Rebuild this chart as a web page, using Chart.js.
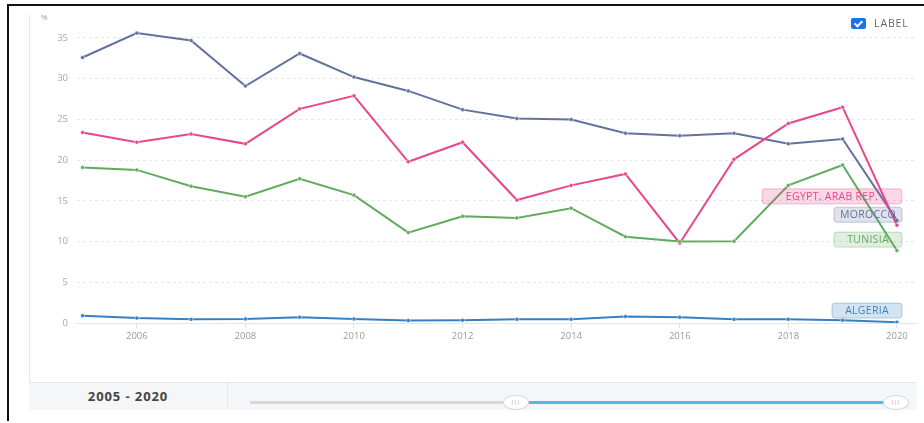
<!DOCTYPE html>
<html>
<head>
<meta charset="utf-8">
<script src="https://cdn.jsdelivr.net/npm/chart.js@4.4.1/dist/chart.umd.min.js"></script>
<style>
  body { margin: 0; width: 924px; height: 423px; background: #fff; font-family: "Open Sans", sans-serif; position: relative; overflow: hidden; }
  .frame-top { position: absolute; left: 7px; top: 4px; width: 917px; height: 2px; background: #111; }
  .frame-left { position: absolute; left: 7px; top: 4px; width: 2px; height: 417px; background: #111; }
  .panel-line { position: absolute; left: 29px; top: 15px; width: 1px; height: 395px; background: #e3e8ee; }
  #wrap { position: absolute; left: 29px; top: 8px; width: 888px; height: 374px; }
  .unit { position: absolute; left: 41px; top: 11px; font-size: 8px; color: #999; }
  .legend { position: absolute; left: 851px; top: 16px; display: flex; align-items: center; }
  .check { width: 15px; height: 11px; background: #1a73e8; border-radius: 2px; position: relative; }
  .check::after { content: ""; position: absolute; left: 5px; top: 1px; width: 3px; height: 6px; border: solid #fff; border-width: 0 2px 2px 0; transform: rotate(45deg); }
  .legend span { margin-left: 8px; font-size: 10.5px; color: #666; letter-spacing: 0.9px; }
  .bottom { position: absolute; left: 29px; top: 382px; width: 888px; height: 28px; background: #f5f6f8; border-top: 1px solid #e4e6ea; box-sizing: border-box; }
  .range { position: absolute; left: 0; width: 198px; top: 0; height: 27px; line-height: 27px; text-align: center; font-weight: bold; font-size: 13px; color: #444; letter-spacing: 0.9px; }
  .sep { position: absolute; left: 198px; top: 0; width: 1px; height: 27px; background: #e4e6ea; }
  .track { position: absolute; left: 221px; top: 18px; width: 262px; height: 3px; background: #d5d9de; }
  .track.on { left: 498px; width: 370px; background: #5ab4ec; }
  .handle { position: absolute; top: 12px; width: 26px; height: 15px; margin-left: -13px; background: #fff; border: 1px solid #d5d9df; border-radius: 50%; box-sizing: border-box; font-size: 7px; color: #bbb; text-align: center; line-height: 13px; letter-spacing: 1px; }
</style>
</head>
<body>
<div class="frame-top"></div>
<div class="frame-left"></div>
<div class="panel-line"></div>
<div id="wrap"><canvas id="chart"></canvas></div>
<div class="unit">%</div>
<div class="legend"><div class="check"></div><span>LABEL</span></div>
<div class="bottom">
  <div class="range">2005 - 2020</div>
  <div class="sep"></div>
  <div class="track"></div>
  <div class="track on"></div>
  <div class="handle" style="left:487px">III</div>
  <div class="handle" style="left:867px">III</div>
</div>
<script>
// Data
const years = [2005, 2006, 2007, 2008, 2009, 2010, 2011, 2012, 2013, 2014, 2015, 2016, 2017, 2018, 2019, 2020];
const morocco = [32.6, 35.6, 34.7, 29.1, 33.1, 30.2, 28.5, 26.2, 25.1, 25.0, 23.3, 23.0, 23.3, 22.0, 22.6, 12.6];
const egypt = [23.4, 22.2, 23.2, 22.0, 26.3, 27.9, 19.8, 22.2, 15.1, 16.9, 18.3, 9.8, 20.1, 24.5, 26.5, 12.0];
const tunisia = [19.1, 18.8, 16.8, 15.5, 17.7, 15.7, 11.1, 13.1, 12.9, 14.1, 10.6, 10.0, 10.05, 16.9, 19.4, 8.9];
const algeria = [0.9, 0.6, 0.45, 0.5, 0.7, 0.5, 0.3, 0.33, 0.45, 0.45, 0.8, 0.7, 0.45, 0.45, 0.33, 0.1];
const yTicks = [0, 5, 10, 15, 20, 25, 30, 35];
const xTicks = [2006, 2008, 2010, 2012, 2014, 2016, 2018, 2020];

function series(label, values, color, endLabel) {
  return {
    label: label,
    data: years.map((y, i) => ({ x: y, y: values[i] })),
    borderColor: color,
    backgroundColor: color,
    pointBackgroundColor: color,
    pointBorderColor: "#fff",
    pointBorderWidth: 0.5,
    borderWidth: 2,
    pointRadius: 2,
    tension: 0,
    endLabel: endLabel,
  };
}

// Boxed country names at the right end of the lines
const endLabels = {
  id: "endLabels",
  afterDatasetsDraw(chart) {
    const ctx = chart.ctx;
    const y = chart.scales.y;
    ctx.save();
    ctx.font = "10.5px 'Open Sans', sans-serif";
    ctx.letterSpacing = "0.3px";
    ctx.textAlign = "center";
    ctx.textBaseline = "middle";
    chart.data.datasets.forEach((ds) => {
      const l = ds.endLabel;
      const right = chart.chartArea.right - 15;
      const cy = y.getPixelForValue(l.at);
      const left = right - l.width;
      ctx.beginPath();
      ctx.roundRect(left, cy - 7.5, l.width, 15, 3);
      ctx.fillStyle = l.fill;
      ctx.fill();
      ctx.strokeStyle = l.stroke;
      ctx.lineWidth = 1;
      ctx.stroke();
      ctx.fillStyle = l.text;
      ctx.fillText(ds.label, left + l.width / 2, cy + 0.5);
    });
    ctx.restore();
  },
};

new Chart(document.getElementById("chart"), {
  type: "line",
  data: {
    datasets: [
      series("ALGERIA", algeria, "#3680c2", { at: 1.52, width: 70, fill: "rgba(54,128,194,0.22)", stroke: "rgba(54,128,194,0.35)", text: "#3a86c8" }),
      series("TUNISIA", tunisia, "#62aa5e", { at: 10.24, width: 68, fill: "rgba(98,170,94,0.2)", stroke: "rgba(98,170,94,0.35)", text: "#62aa5e" }),
      series("EGYPT, ARAB REP.", egypt, "#e8478b", { at: 15.55, width: 140, fill: "rgba(232,71,139,0.22)", stroke: "rgba(232,71,139,0.35)", text: "#e8478b" }),
      series("MOROCCO", morocco, "#63719f", { at: 13.3, width: 68, fill: "rgba(99,113,159,0.2)", stroke: "rgba(99,113,159,0.35)", text: "#63719f" }),
    ],
  },
  options: {
    responsive: true,
    maintainAspectRatio: false,
    animation: false,
    devicePixelRatio: 1,
    layout: { autoPadding: false, padding: { top: 12, right: 0, bottom: 0, left: 0 } },
    plugins: { legend: { display: false }, tooltip: { enabled: false } },
    scales: {
      x: {
        type: "linear",
        min: 2004.88,
        max: 2020.37,
        afterBuildTicks: (s) => { s.ticks = xTicks.map((v) => ({ value: v })); },
        afterFit: (s) => { s.height = 59; },
        grid: { drawOnChartArea: false, drawTicks: true, tickLength: 5, color: "#dfe3e8" },
        border: { display: true, color: "#e3e6ea" },
        ticks: { color: "#9a9a9a", padding: 3, font: { size: 9.5, family: "'Open Sans', sans-serif" }, callback: (v) => String(v) },
      },
      y: {
        min: 0,
        max: 37,
        afterBuildTicks: (s) => { s.ticks = yTicks.map((v) => ({ value: v })); },
        afterFit: (s) => { s.width = 47; },
        grid: { drawTicks: false, color: "#e6e6e6" },
        border: { display: true, color: "rgba(0,0,0,0)", dash: [3, 3] },
        ticks: { color: "#a8a8a8", padding: 8, font: { size: 9.5, family: "'Open Sans', sans-serif" } },
      },
    },
  },
  plugins: [endLabels],
});
</script>
</body>
</html>
